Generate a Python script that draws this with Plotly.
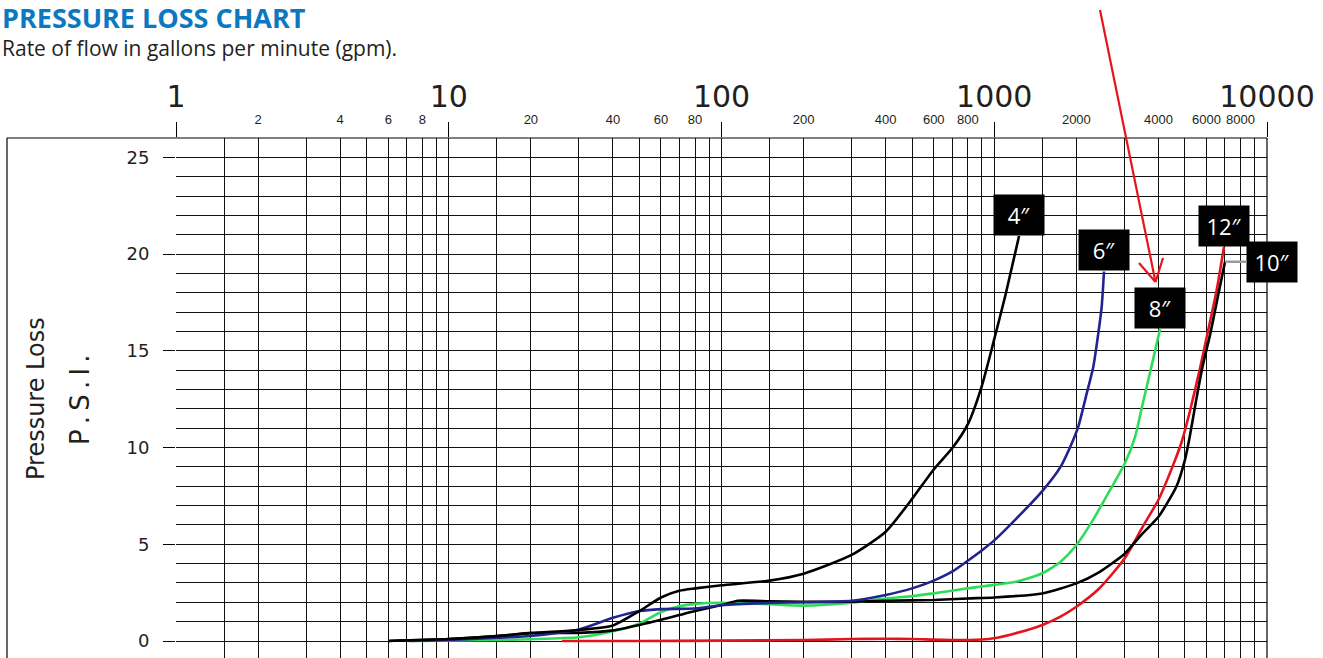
import numpy as np
import plotly.graph_objects as go

# ---- pressure loss curves: flow (gpm) vs loss (psi) per pipe size ----
gpm_4in = [6, 10, 15, 20, 30, 40, 50, 60, 70, 80, 100, 150, 200, 300, 400, 491,
           598, 708, 803, 899, 1000, 1100, 1233]
psi_4in = [0, 0.1, 0.25, 0.42, 0.57, 0.8, 1.55, 2.25, 2.6, 2.72, 2.88, 3.12, 3.48,
           4.45, 5.65, 7.2, 8.84, 10.04, 11.25, 13.15, 15.6, 17.9, 20.93]

gpm_6in = [7.2, 10, 15, 20, 30, 40, 50, 60, 80, 100, 150, 200, 300, 400, 500, 600,
           700, 800, 900, 1000, 1200, 1500, 1750, 1900, 2033, 2183, 2308, 2407,
           2477, 2526]
psi_6in = [0, 0.05, 0.17, 0.26, 0.6, 1.2, 1.55, 1.65, 1.68, 1.85, 1.97, 2.0, 2.08,
           2.38, 2.72, 3.12, 3.58, 4.15, 4.68, 5.2, 6.3, 7.75, 9.0, 10.04, 11.08,
           12.8, 14.18, 15.9, 17.28, 19.1]

gpm_8in = [8, 10, 15, 20, 30, 40, 50, 60, 70, 80, 100, 150, 200, 300, 400, 500,
           600, 700, 800, 900, 1000, 1200, 1500, 1750, 2000, 2300, 2584, 3016,
           3281, 3472, 3622, 3830, 4053]
psi_8in = [0, 0.03, 0.05, 0.09, 0.19, 0.5, 0.9, 1.5, 1.8, 1.92, 1.98, 1.9, 1.83,
           1.98, 2.2, 2.32, 2.46, 2.6, 2.72, 2.82, 2.9, 3.06, 3.5, 4.1, 4.96, 6.25,
           7.5, 9.2, 10.54, 12.03, 13.14, 14.61, 16.11]

gpm_10in = [6, 10, 15, 20, 30, 40, 50, 60, 70, 80, 100, 115, 150, 200, 300, 400,
            600, 800, 1000, 1500, 2000, 2420, 3000, 3500, 4000, 4650, 5000, 5200,
            5500, 5800, 6200, 6600, 7016]
psi_10in = [0, 0.1, 0.25, 0.4, 0.42, 0.55, 0.83, 1.1, 1.34, 1.55, 1.86, 2.08, 2.05,
            2.02, 2.03, 2.08, 2.12, 2.2, 2.25, 2.46, 2.98, 3.55, 4.5, 5.56, 6.42,
            7.97, 9.35, 10.5, 12.45, 14.17, 15.9, 17.78, 19.6]

gpm_12in = [26, 50, 100, 200, 300, 400, 500, 700, 900, 1000, 1200, 1500, 1750,
            2000, 2420, 3000, 3500, 4000, 4500, 4867, 5222, 5681, 6094, 6540, 6954]
psi_12in = [0, 0, 0.02, 0.05, 0.1, 0.12, 0.1, 0.05, 0.08, 0.14, 0.4, 0.83, 1.26,
            1.77, 2.7, 4.25, 5.9, 7.3, 9.0, 10.3, 11.9, 14.1, 16.1, 18.14, 20.37]

# ---- axis labels ----
decade_vals = [1, 10, 100, 1000, 10000]
decade_text = ["1", "10", "100", "1000", "10000"]
sub_vals = [2, 4, 6, 8, 20, 40, 60, 80, 200, 400, 600, 800, 2000, 4000, 6000, 8000]
sub_text = [str(v) for v in sub_vals]
grid_steps = [1.5, 2, 3, 4, 5, 6, 7, 8, 9]
minor_grid = [s * d for d in [1, 10, 100, 1000] for s in grid_steps]
psi_vals = [0, 5, 10, 15, 20, 25]
psi_text = ["0", "5", "10", "15", "20", "25"]

INK = "#231f20"
GRID = "#111111"
W, H = 1323, 658
L, R, T, B = 176, 56, 138, 0
PW, PH = W - L - R, H - T - B


def px(xp):
    return (xp - L) / PW


def py(yp):
    return (H - B - yp) / PH


fig = go.Figure()

series = [
    ("12″", gpm_12in, psi_12in, "#e5141c"),
    ("8″", gpm_8in, psi_8in, "#2fdc5a"),
    ("10″", gpm_10in, psi_10in, "#000000"),
    ("6″", gpm_6in, psi_6in, "#23238f"),
    ("4″", gpm_4in, psi_4in, "#000000"),
]
for name, g, p, c in series:
    fig.add_trace(go.Scatter(
        x=g, y=p, mode="lines", name=name, showlegend=False,
        line=dict(color=c, width=2.6, shape="spline", smoothing=0.6),
        hoverinfo="skip", xaxis="x", yaxis="y",
    ))

# pipe-size tags sitting on top of each curve's end point
tag_font = dict(family="Open Sans", size=22, color="white")
for name, g, p, _ in series:
    if name == "10″":
        fig.add_annotation(
            x=np.log10(g[-1]), y=p[-1], xref="x", yref="y", text=name,
            showarrow=True, arrowhead=0, arrowcolor="#9a9a9a", arrowwidth=2.5,
            ax=47, ay=0, standoff=0, bgcolor="black", width=50, height=40,
            borderpad=0, font=tag_font,
        )
    else:
        fig.add_annotation(
            x=np.log10(g[-1]), y=p[-1], xref="x", yref="y", text=name,
            showarrow=False, xanchor="center", yanchor="bottom",
            bgcolor="black", width=50, height=40, borderpad=0, font=tag_font,
        )

# title block
fig.add_annotation(
    text="PRESSURE LOSS CHART", xref="paper", yref="paper",
    x=px(0), y=py(18), xanchor="left", yanchor="middle", showarrow=False,
    font=dict(family="Open Sans", size=27, color="#0b78c1", weight="bold"),
)
fig.add_annotation(
    text="Rate of flow in gallons per minute (gpm).", xref="paper", yref="paper",
    x=px(0), y=py(48), xanchor="left", yanchor="middle", showarrow=False,
    font=dict(family="Open Sans", size=21, color=INK),
)

# vertical axis caption
fig.add_annotation(
    text="Pressure Loss", xref="paper", yref="paper", x=px(36), y=py(399),
    textangle=-90, showarrow=False, xanchor="center", yanchor="middle",
    font=dict(family="DejaVu Sans", size=24, color=INK),
)
fig.add_annotation(
    text="P\u2009.\u2009S\u2009.\u2009I\u2009.", xref="paper", yref="paper",
    x=px(80), y=py(400),
    textangle=-90, showarrow=False, xanchor="center", yanchor="middle",
    font=dict(family="DejaVu Sans", size=26, color=INK),
)

# frame around the chart table
frame = dict(type="line", xref="paper", yref="paper", line=dict(color="black", width=1.2))
fig.add_shape(**frame, x0=px(7), x1=1, y0=1, y1=1)
fig.add_shape(**frame, x0=px(7), x1=px(7), y0=0, y1=1)
fig.add_shape(**frame, x0=1, x1=1, y0=0, y1=1)

# red pointer towards the 8″ tag
arrow = dict(type="line", xref="paper", yref="paper", line=dict(color="#e8141b", width=2.2))
tip = (1155.5, 282)
fig.add_shape(**arrow, x0=px(1100), y0=py(10), x1=px(tip[0]), y1=py(tip[1]))
fig.add_shape(**arrow, x0=px(1139), y0=py(263), x1=px(tip[0]), y1=py(tip[1]))
fig.add_shape(**arrow, x0=px(1163), y0=py(258), x1=px(tip[0]), y1=py(tip[1]))

fig.update_layout(
    width=W, height=H,
    margin=dict(l=L, r=R, t=T, b=B, pad=0),
    paper_bgcolor="white", plot_bgcolor="white",
    showlegend=False,
    xaxis=dict(
        type="log", range=[0, 4], side="top",
        tickvals=decade_vals, ticktext=decade_text,
        tickfont=dict(family="DejaVu Sans", size=30, color=INK),
        ticks="outside", ticklen=15, tickcolor="black", tickwidth=1.2,
        ticklabelstandoff=3,
        showgrid=True, gridcolor=GRID, gridwidth=1,
        minor=dict(tickvals=minor_grid, showgrid=True, gridcolor=GRID,
                   gridwidth=1, ticks=""),
        zeroline=False, showline=False, fixedrange=True,
    ),
    xaxis2=dict(
        type="log", range=[0, 4], side="top", overlaying="x",
        tickvals=sub_vals, ticktext=sub_text,
        tickfont=dict(family="Liberation Sans", size=13, color=INK),
        ticks="", ticklabelstandoff=10,
        showgrid=False, zeroline=False, showline=False, fixedrange=True,
    ),
    yaxis=dict(
        range=[-17 / 19.346, 26],
        tickvals=psi_vals, ticktext=psi_text,
        tickfont=dict(family="DejaVu Sans", size=18, color=INK),
        ticks="outside", ticklen=12, tickcolor="black", tickwidth=1.2,
        ticklabelstandoff=10,
        showgrid=True, gridcolor=GRID, gridwidth=1,
        minor=dict(dtick=1, tick0=0, showgrid=True, gridcolor=GRID,
                   gridwidth=1, ticks=""),
        zeroline=False, showline=False, fixedrange=True,
    ),
)

# keep the secondary top axis drawn
fig.add_trace(go.Scatter(x=[1], y=[None], xaxis="x2", yaxis="y",
                         showlegend=False, hoverinfo="skip"))

fig.write_html("out.html")
